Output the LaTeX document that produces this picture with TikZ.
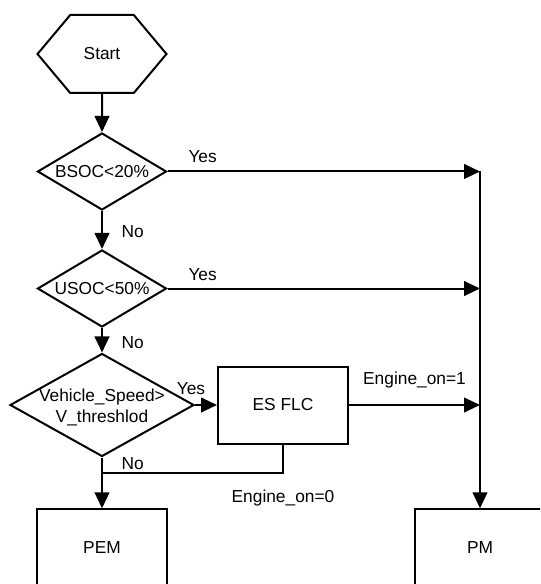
\documentclass[tikz,border=0pt]{standalone}
\usepackage{fontspec}
\setmainfont{Liberation Sans}
\usetikzlibrary{shapes.geometric,shapes.symbols,arrows.meta}

\begin{document}
\begin{tikzpicture}[x=0.75pt,y=-0.75pt,line width=1.5pt,
  font=\fontsize{13}{16}\selectfont,
  arr/.style={-{Triangle[length=12pt,width=11pt]}},
  box/.style={draw, rectangle, minimum width=97.5pt, minimum height=58pt},
  decision/.style={draw, diamond, inner sep=0pt, minimum width=96.75pt, minimum height=57.75pt},
  lbl/.style={inner sep=1pt}]
\useasboundingbox (0,0) rectangle (540,584);
\clip (0,0) rectangle (540,584);
\node[draw, signal, signal to=east and west, signal pointer angle=100, minimum width=96.75pt, minimum height=58.5pt] (start) at (102,54) {Start};
\node[decision, label=center:{BSOC<20\%}] (bsoc) at (102,171.5) {};
\node[decision, label=center:{USOC<50\%}] (usoc) at (102,288.5) {};
\node[decision, minimum width=138pt, minimum height=77.25pt, label={[align=center, yshift=-2pt]center:{Vehicle\_Speed>\\V\_threshlod}}] (speed) at (102,405) {};
\node[box, minimum height=57.75pt] (flc) at (283,405) {ES FLC};
\node[box] (pem) at (102,548) {PEM};
\node[box] (pm) at (480,548) {PM};
\coordinate (j1) at (bsoc -| pm);
\coordinate (j2) at (usoc -| pm);
\coordinate (j3) at (flc -| pm);
\coordinate (j5) at ([yshift=-21pt]flc.south);
\coordinate (j4) at (j5 -| speed);
% main column
\draw[arr] (start) -- (bsoc);
\draw[arr] (bsoc) -- node[lbl, pos=0.55, anchor=west, xshift=13pt] {No} (usoc);
\draw[arr] (usoc) -- node[lbl, pos=0.6, anchor=west, xshift=13pt] {No} (speed);
\draw[arr] (speed) -- node[lbl, pos=0.115, anchor=west, xshift=13pt] {No} (pem);
% yes branches
\draw[arr] (bsoc) -- node[lbl, pos=0, anchor=south west, xshift=14pt, yshift=5pt] {Yes} (j1);
\draw[arr] (usoc) -- node[lbl, pos=0, anchor=south west, xshift=14pt, yshift=4pt] {Yes} (j2);
\draw[arr] (speed) -- node[lbl, pos=0, anchor=south, xshift=-3pt, yshift=6pt] {Yes} (flc);
\draw[arr] (flc) -- node[lbl, midway, anchor=south, yshift=11pt] {Engine\_on=1} (j3);
\draw[arr] (j1) -- (pm);
\draw (flc) -- (j5) node[lbl, anchor=north, yshift=-11pt] {Engine\_on=0} -- (j4);
\end{tikzpicture}
\end{document}
